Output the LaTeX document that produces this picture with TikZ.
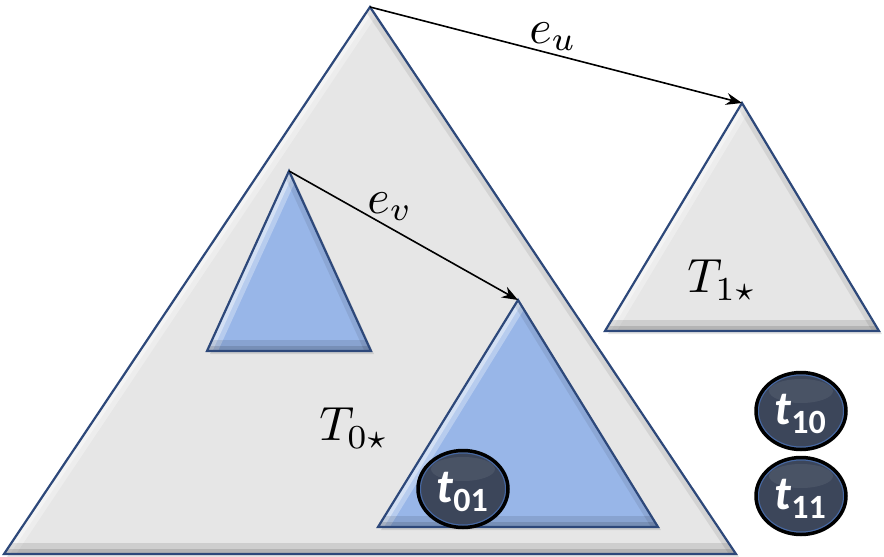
\documentclass[tikz,border=0pt]{standalone}
\usepackage{fontspec}
\newfontfamily\cf{Carlito}
\usetikzlibrary{arrows.meta,shapes.geometric,calc}
\definecolor{grayfill}{RGB}{230,230,230}
\definecolor{bluefill}{RGB}{152,182,232}
\definecolor{edgeblue}{RGB}{45,72,122}
\definecolor{ballfill}{RGB}{60,70,90}
\definecolor{ballring}{RGB}{70,105,165}
\tikzset{
  edgeline/.style={draw=edgeblue, line width=2.2, line join=miter},
  arr/.style={-{Stealth[length=16,width=12]}, line width=1.6, black},
  ball/.style={ellipse, fill=ballfill, draw=black, line width=3.5, minimum width=90, minimum height=77, inner sep=0},
  lbl/.style={inner sep=0, scale=4.8},
  balltext/.style={text=white, inner sep=0},
}
\newcommand{\bevtri}[4]{%
  \fill[black, opacity=0.10] ($#1+(3,3)$) -- ($#2+(3,3)$) -- ($#3+(3,3)$) -- cycle;
  \begin{scope}
    \clip #1 -- #2 -- #3 -- cycle;
    \fill[#4] #1 -- #2 -- #3 -- cycle;
    \draw[white, opacity=0.3, line width=20] #1 -- #2;
    \draw[white, opacity=0.4, line width=10] #1 -- #2;
    \draw[black, opacity=0.08, line width=12] #1 -- #3;
    \draw[black, opacity=0.10, line width=22] #2 -- #3;
    \draw[black, opacity=0.12, line width=10] #2 -- #3;
  \end{scope}
  \draw[edgeline] #1 -- #2 -- #3 -- cycle;
}
\newcommand{\balllabel}[1]{{\cf\fontsize{48}{48}\selectfont\bfseries\itshape t\/\raisebox{-0.2em}{\upshape\fontsize{34}{34}\selectfont #1}}}
\begin{document}
\begin{tikzpicture}[x=1pt,y=-1pt]
\useasboundingbox (0,0) rectangle (884,557);
% apexes
\coordinate (A) at (370,7);
\coordinate (Al) at (4,554);
\coordinate (Ar) at (736,554);
\coordinate (B) at (742,103);
\coordinate (Bl) at (605,331);
\coordinate (Br) at (879,331);
\coordinate (C) at (289,171);
\coordinate (Cl) at (207,351);
\coordinate (Cr) at (371,351);
\coordinate (D) at (518,300);
\coordinate (Dl) at (378,527);
\coordinate (Dr) at (658,527);
\bevtri{(A)}{(Al)}{(Ar)}{grayfill}
\bevtri{(B)}{(Bl)}{(Br)}{grayfill}
\bevtri{(C)}{(Cl)}{(Cr)}{bluefill}
\bevtri{(D)}{(Dl)}{(Dr)}{bluefill}
% arrows
\draw[arr] (A) -- (B);
\draw[arr] (C) -- (D);
\node[lbl] (eu) at (553,37) {$e_u$};
\node[lbl] (ev) at (390,207) {$e_v$};
\node[lbl] (T0) at (354,428) {$T_{0\star}$};
\node[lbl] (T1) at (722,280) {$T_{1\star}$};
% balls
\foreach \nm/\px/\py/\lab in {t01/463/489/01, t10/801/411/10, t11/801/496/11}{
  \node[ball] (\nm) at (\px,\py) {};
  \draw[ballring, line width=1] (\px,\py) ellipse (42.5 and 36);
  \fill[white, opacity=0.07] (\px,\py-20) ellipse (32 and 12);
  \node[balltext] at (\px-1,\py+3) {\balllabel{\lab}};
}
\end{tikzpicture}
\end{document}
